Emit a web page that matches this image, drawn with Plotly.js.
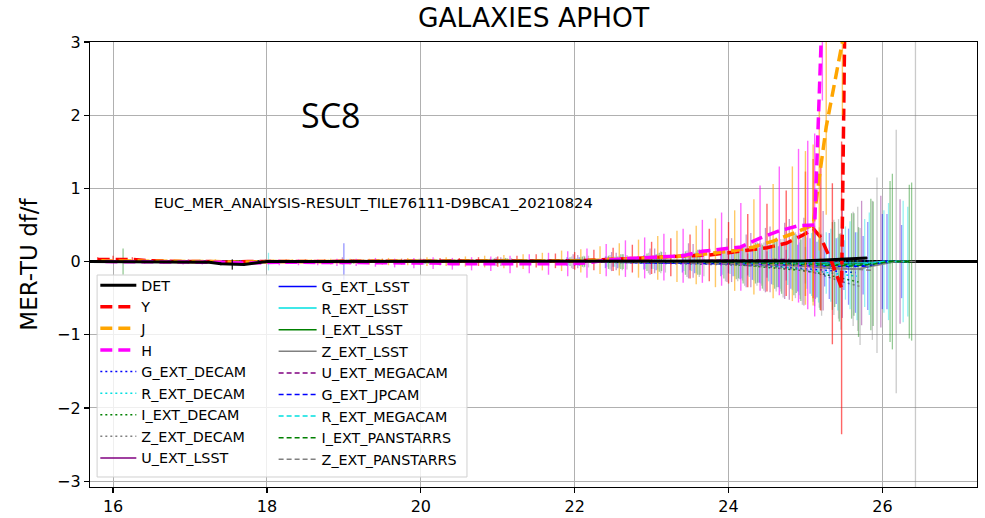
<!DOCTYPE html>
<html><head><meta charset="utf-8">
<script src="https://cdn.plot.ly/plotly-3.0.1.min.js"></script>
<style>html,body{margin:0;padding:0;background:#fff}#chart{width:985px;height:518px}</style>
</head><body><div id="chart"></div>
<script>
// ---------------- DATA ----------------
const titleText = 'GALAXIES APHOT';
const yTitle = 'MER-TU df/f';
const simLabel = 'SC8';
const tileLabel = 'EUC_MER_ANALYSIS-RESULT_TILE76111-D9BCA1_20210824';
const xTicks = [16, 18, 20, 22, 24, 26];
const yTicks = [-3, -2, -1, 0, 1, 2, 3];

// DET
const detX = [15.7, 16.0, 16.5, 17.0, 17.25, 17.4, 17.55, 17.7, 17.85, 18.0, 18.5, 19.0, 19.5, 20.0, 20.5, 21.0, 21.5, 22.0, 22.5, 23.0, 23.5, 24.0, 24.5, 25.0, 25.25, 25.5, 25.8];
const detV = [0, 0, 0, 0, -0.01, -0.03, -0.04, -0.04, -0.02, 0, 0, 0, 0, 0, 0, 0, 0, 0, 0, 0, 0, 0, 0, 0.01, 0.02, 0.03, 0.05];
const detE = [0.005, 0.005, 0.005, 0.005, 0.01, 0.02, 0.07, 0.02, 0.01, 0.005, 0.005, 0.005, 0.005, 0.005, 0.005, 0.005, 0.005, 0.005, 0.005, 0.005, 0.005, 0.01, 0.01, 0.01, 0.01, 0.01, 0.01];

// Y band
const yX = [15.8,16.0,16.25,16.5,16.75,17.0,17.25,17.5,17.75,18.0,18.25,18.5,18.75,19.0,19.25,19.5,19.75,20.0,20.25,20.5,20.75,21.0,21.25,21.5,21.75,22.0,22.25,22.5,22.75,23.0,23.25,23.5,23.75,24.0,24.25,24.5,24.75,25.0,25.1,25.2,25.35,25.47,25.52];
const yV = [0.03,0.03,0.03,0.01,0,0,0,-0.01,0,0,0,0,0,0,0,0,0,0,0,0,0,0,0,0.01,0.01,0.01,0.02,0.03,0.04,0.05,0.06,0.07,0.09,0.12,0.15,0.19,0.25,0.38,0.45,0.33,-0.03,-0.36,4.0];
const yE = [0.03,0.05,0.03,0.02,0.02,0.02,0.02,0.03,0.02,0.02,0.03,0.03,0.03,0.03,0.03,0.04,0.04,0.04,0.05,0.05,0.06,0.07,0.08,0.09,0.1,0.12,0.14,0.16,0.19,0.22,0.26,0.3,0.36,0.42,0.5,0.6,0.72,0.85,0.95,1.0,1.1,2.0,1.0];

// J band
const jX = [15.85,16.08,16.33,16.58,16.83,17.08,17.33,17.58,17.83,18.08,18.33,18.58,18.83,19.08,19.33,19.58,19.83,20.08,20.33,20.58,20.83,21.08,21.33,21.58,21.83,22.08,22.33,22.58,22.83,23.08,23.33,23.58,23.83,24.08,24.33,24.58,24.83,25.0,25.1,25.18,25.27,25.48,25.55];
const jV = [0.01,0.01,0.01,0,0,0,0,-0.01,0,0,0,0,0,0,0,0,0,0,0,0,0,0,0,0,0.01,0.01,0.02,0.03,0.04,0.05,0.07,0.09,0.12,0.15,0.2,0.28,0.38,0.46,0.5,1.15,1.84,3.0,4.0];
const jE = [0.02,0.03,0.02,0.02,0.02,0.02,0.03,0.03,0.02,0.03,0.03,0.03,0.04,0.04,0.04,0.05,0.05,0.06,0.06,0.07,0.08,0.09,0.1,0.12,0.14,0.16,0.19,0.22,0.26,0.3,0.35,0.4,0.47,0.55,0.65,0.78,0.92,1.05,1.1,1.0,1.2,1.0,1.0];

// H band
const hX = [15.9,16.16,16.41,16.66,16.91,17.16,17.41,17.66,17.91,18.16,18.41,18.66,18.91,19.16,19.41,19.66,19.91,20.16,20.41,20.66,20.91,21.16,21.41,21.66,21.91,22.16,22.41,22.66,22.91,23.16,23.41,23.66,23.91,24.16,24.41,24.66,24.91,25.03,25.12,25.22];
const hV = [0,0,0,-0.01,-0.01,-0.01,-0.01,-0.02,-0.01,-0.01,-0.01,-0.01,-0.01,-0.01,-0.01,-0.02,-0.02,-0.02,-0.03,-0.03,-0.03,-0.04,-0.03,-0.03,-0.03,-0.02,0.02,0.04,0.05,0.06,0.08,0.14,0.17,0.2,0.32,0.42,0.49,0.5,0.5,3.5];
const hE = [0.02,0.02,0.03,0.02,0.03,0.03,0.03,0.04,0.03,0.04,0.04,0.04,0.05,0.05,0.06,0.06,0.07,0.08,0.08,0.09,0.1,0.12,0.13,0.15,0.17,0.2,0.22,0.25,0.28,0.32,0.37,0.43,0.5,0.6,0.72,0.88,1.05,1.15,1.25,1.3];

// External bands: shared magnitude bins
const xE = [16.0, 17.0, 18.0, 19.0, 20.0, 21.0, 22.0, 22.5, 23.0, 23.5, 24.0, 24.25, 24.5, 24.75, 25.0, 25.25, 25.5, 25.75, 26.0, 26.25];

const gDecamV = [0,0,0,0,0,0,0,-0.01,-0.01,-0.02,-0.03,-0.04,-0.05,-0.07,-0.09,-0.11,-0.13,-0.15,null,null];
const gDecamE = [0.01,0.01,0.02,0.02,0.03,0.04,0.06,0.08,0.1,0.13,0.17,0.2,0.24,0.28,0.32,0.38,0.45,0.55,null,null];
const rDecamV = [0,0,0,0,0,0,0,0,-0.01,-0.01,-0.02,-0.03,-0.05,-0.07,-0.1,-0.13,-0.17,-0.2,null,null];
const rDecamE = [0.01,0.01,0.01,0.02,0.02,0.03,0.05,0.07,0.09,0.12,0.16,0.2,0.25,0.3,0.36,0.43,0.5,0.6,null,null];
const iDecamV = [0,0,0,0,0,0,0,-0.01,-0.01,-0.02,-0.03,-0.05,-0.07,-0.09,-0.12,-0.16,-0.22,-0.28,null,null];
const iDecamE = [0.01,0.01,0.02,0.02,0.03,0.04,0.06,0.09,0.12,0.16,0.2,0.25,0.3,0.35,0.42,0.5,0.6,0.75,null,null];
const zDecamV = [0,0,0,0,0,0,-0.01,-0.01,-0.02,-0.03,-0.04,-0.05,-0.07,-0.09,-0.11,-0.18,-0.27,-0.34,null,null];
const zDecamE = [0.01,0.02,0.02,0.03,0.03,0.05,0.08,0.1,0.14,0.18,0.23,0.28,0.33,0.4,0.48,0.56,0.66,0.8,null,null];
const uLsstV = [0,0,0,0.01,0,0,0,0,0,0.01,0.02,0.01,0.02,0.01,0,0.01,-0.02,-0.02,0,0];
const uLsstE = [0.02,0.03,0.03,0.05,0.04,0.06,0.1,0.13,0.18,0.24,0.3,0.36,0.44,0.52,0.6,0.68,0.75,0.85,0.9,0.85];
const gLsstV = [0,0,0,0,0,0,-0.01,-0.01,-0.02,-0.02,-0.03,-0.04,-0.04,-0.05,-0.05,-0.05,-0.05,-0.05,0,0];
const gLsstE = [0.01,0.01,0.02,0.25,0.02,0.03,0.05,0.06,0.08,0.1,0.13,0.15,0.18,0.21,0.25,0.29,0.34,0.4,0.65,0.5];
const rLsstV = [0,0,0,0,0,0,0,0,-0.01,-0.01,-0.01,-0.01,-0.02,-0.02,-0.02,-0.02,-0.02,-0.02,0,0];
const rLsstE = [0.01,0.01,0.12,0.02,0.02,0.03,0.05,0.07,0.09,0.12,0.16,0.2,0.25,0.3,0.35,0.42,0.5,0.6,0.7,0.83];
const iLsstV = [0,0.01,0,0,0,0,0,0,0,-0.01,-0.01,-0.02,-0.02,-0.03,-0.03,-0.04,-0.04,-0.03,0,0];
const iLsstE = [0.18,0.02,0.02,0.03,0.03,0.04,0.07,0.1,0.13,0.17,0.22,0.27,0.33,0.4,0.48,0.58,0.7,0.85,1.2,1.08];
const zLsstV = [0,0,0,0,0,0,0,-0.01,-0.01,-0.02,-0.03,-0.04,-0.05,-0.06,-0.08,-0.1,-0.1,-0.05,0,0];
const zLsstE = [0.02,0.02,0.03,0.03,0.04,0.05,0.08,0.1,0.14,0.18,0.23,0.29,0.36,0.45,0.55,0.68,0.85,1.2,1.8,4.5];
const uMegaV = [0,0,0,0,0,0,0,0,0.01,0.01,0.02,0.02,0.03,0.03,null,null,null,null,null,null];
const uMegaE = [0.02,0.02,0.03,0.03,0.04,0.06,0.09,0.12,0.17,0.23,0.3,0.37,0.45,0.55,null,null,null,null,null,null];
const gJpcamV = [0,0,0,0,0,0,0,-0.01,-0.01,-0.02,-0.02,-0.03,-0.04,-0.05,-0.06,-0.06,-0.07,-0.06,0,null];
const gJpcamE = [0.01,0.02,0.02,0.03,0.03,0.04,0.06,0.08,0.11,0.14,0.18,0.22,0.27,0.32,0.38,0.45,0.52,0.6,0.65,null];
const rMegaV = [0,0,0,0,0,0,0,0,0,-0.01,-0.01,-0.02,-0.02,-0.03,-0.04,-0.05,-0.05,-0.03,0,0];
const rMegaE = [0.01,0.01,0.02,0.02,0.03,0.04,0.06,0.08,0.11,0.15,0.19,0.24,0.3,0.36,0.43,0.5,0.6,0.7,0.8,0.75];
const iPanV = [0,0,0,0,0,0,0,0,-0.01,-0.01,-0.02,-0.02,-0.03,-0.04,-0.05,-0.06,-0.06,-0.04,0,0];
const iPanE = [0.01,0.02,0.02,0.03,0.03,0.05,0.07,0.1,0.13,0.17,0.22,0.28,0.34,0.42,0.5,0.6,0.72,0.9,1.1,1.05];
const zPanV = [0,0,0,0,0,0,0,-0.01,-0.01,-0.02,-0.03,-0.03,-0.04,-0.05,-0.06,-0.08,-0.1,-0.12,null,null];
const zPanE = [0.02,0.02,0.03,0.03,0.04,0.05,0.08,0.11,0.15,0.19,0.24,0.3,0.37,0.45,0.55,0.65,0.78,0.95,null,null];

// ---------------- STYLE ----------------
function rgba(hex, a) {
  const n = parseInt(hex.slice(1), 16);
  return 'rgba(' + ((n >> 16) & 255) + ',' + ((n >> 8) & 255) + ',' + (n & 255) + ',' + a + ')';
}
const DOT = '2px,3px', DASH = '5px,3px', THICKDASH = '12px,6px';
const C = {blue:'#0000ff', cyan:'#00e0e0', green:'#008000', gray:'#808080', purple:'#800080'};

const extSeries = [
  {name:'G_EXT_DECAM', v:gDecamV, e:gDecamE, color:C.blue, dash:DOT, off:-0.10, lg:'legend', rank:5},
  {name:'R_EXT_DECAM', v:rDecamV, e:rDecamE, color:C.cyan, dash:DOT, off:-0.08, lg:'legend', rank:6},
  {name:'I_EXT_DECAM', v:iDecamV, e:iDecamE, color:C.green, dash:DOT, off:-0.06, lg:'legend', rank:7},
  {name:'Z_EXT_DECAM', v:zDecamV, e:zDecamE, color:C.gray, dash:DOT, off:-0.04, lg:'legend', rank:8},
  {name:'U_EXT_LSST', v:uLsstV, e:uLsstE, color:C.purple, dash:'solid', off:-0.02, lg:'legend', rank:9},
  {name:'G_EXT_LSST', v:gLsstV, e:gLsstE, color:C.blue, dash:'solid', off:0.0, lg:'legend2', rank:1},
  {name:'R_EXT_LSST', v:rLsstV, e:rLsstE, color:C.cyan, dash:'solid', off:0.02, lg:'legend2', rank:2},
  {name:'I_EXT_LSST', v:iLsstV, e:iLsstE, color:C.green, dash:'solid', off:0.13, lg:'legend2', rank:3},
  {name:'Z_EXT_LSST', v:zLsstV, e:zLsstE, color:C.gray, dash:'solid', off:0.18, lg:'legend2', rank:4},
  {name:'U_EXT_MEGACAM', v:uMegaV, e:uMegaE, color:C.purple, dash:DASH, off:0.04, lg:'legend2', rank:5},
  {name:'G_EXT_JPCAM', v:gJpcamV, e:gJpcamE, color:C.blue, dash:DASH, off:0.06, lg:'legend2', rank:6},
  {name:'R_EXT_MEGACAM', v:rMegaV, e:rMegaE, color:C.cyan, dash:DASH, off:0.08, lg:'legend2', rank:7},
  {name:'I_EXT_PANSTARRS', v:iPanV, e:iPanE, color:C.green, dash:DASH, off:0.10, lg:'legend2', rank:8},
  {name:'Z_EXT_PANSTARRS', v:zPanV, e:zPanE, color:C.gray, dash:DASH, off:0.12, lg:'legend2', rank:9}
];

const traces = [];
extSeries.forEach(s => {
  traces.push({
    type:'scatter', mode:'lines', name:s.name,
    x: xE.map(m => m + s.off), y: s.v,
    error_y:{type:'data', array:s.e, visible:true, color:rgba(s.color, 0.42), thickness:1.3, width:0},
    line:{color:s.color, width:1.5, dash:s.dash},
    legend:s.lg, legendrank:s.rank, connectgaps:false, hoverinfo:'skip'
  });
});
const nir = [
  {name:'Y', x:yX, v:yV, e:yE, color:'#ff0000', rank:2},
  {name:'J', x:jX, v:jV, e:jE, color:'#ffa500', rank:3},
  {name:'H', x:hX, v:hV, e:hE, color:'#ff00ff', rank:4}
];
nir.forEach(s => {
  traces.push({
    type:'scatter', mode:'lines', name:s.name, x:s.x, y:s.v,
    error_y:{type:'data', array:s.e, visible:true, color:rgba(s.color, 0.6), thickness:1.4, width:0},
    line:{color:s.color, width:3.5, dash:THICKDASH},
    legend:'legend', legendrank:s.rank, hoverinfo:'skip'
  });
});
traces.push({
  type:'scatter', mode:'lines', name:'DET', x:detX, y:detV,
  error_y:{type:'data', array:detE, visible:true, color:'rgba(0,0,0,0.8)', thickness:1.4, width:0},
  line:{color:'#000000', width:3}, legend:'legend', legendrank:1, hoverinfo:'skip'
});

const FONT = 'DejaVu Sans, sans-serif';
const axisCommon = {
  showgrid:true, gridcolor:'#b0b0b0', gridwidth:1,
  showline:true, linecolor:'#000', linewidth:1.2, mirror:true,
  ticks:'outside', ticklen:5, tickwidth:1.2, tickcolor:'#000',
  tickfont:{family:FONT, size:16, color:'#000'}
};

const layout = {
  width:985, height:518,
  margin:{l:90, r:8, t:42, b:31},
  paper_bgcolor:'#fff', plot_bgcolor:'#fff',
  showlegend:true,
  title:{text:titleText, font:{family:FONT, size:26.5, color:'#000'}, x:0.5, xref:'paper', xanchor:'center', y:1-18/518, yref:'container', yanchor:'middle'},
  xaxis:Object.assign({}, axisCommon, {range:[15.7, 27.23], tickvals:xTicks, zeroline:false}),
  yaxis:Object.assign({}, axisCommon, {range:[-3.08, 3.0], tickvals:yTicks, zeroline:true, zerolinecolor:'#000', zerolinewidth:2.5,
    title:{text:yTitle, font:{family:FONT, size:23, color:'#000'}, standoff:13}}),
  legend:{x:0.006, y:0.489, xanchor:'left', yanchor:'top', bgcolor:'rgba(0,0,0,0)', borderwidth:0,
    font:{family:FONT, size:14.3, color:'#000'}, itemwidth:36, tracegroupgap:0},
  legend2:{x:0.207, y:0.486, xanchor:'left', yanchor:'top', bgcolor:'rgba(0,0,0,0)', borderwidth:0,
    font:{family:FONT, size:14.3, color:'#000'}, itemwidth:38, tracegroupgap:0},
  shapes:[{type:'rect', xref:'paper', yref:'paper', x0:0.008, x1:0.425, y0:0.0225, y1:0.4764,
    line:{color:'#d0d0d0', width:1}, fillcolor:'rgba(255,255,255,0.8)', layer:'above'}],
  annotations:[
    {x:18.83, y:2.0, xref:'x', yref:'y', text:simLabel, showarrow:false, font:{family:'Open Sans, sans-serif', size:34, color:'#000'}},
    {x:16.5, y:0.81, xref:'x', yref:'y', text:tileLabel, showarrow:false, xanchor:'left', yanchor:'middle', font:{family:FONT, size:14.7, color:'#000'}}
  ]
};

Plotly.newPlot('chart', traces, layout, {staticPlot:true, displayModeBar:false});
</script></body></html>
